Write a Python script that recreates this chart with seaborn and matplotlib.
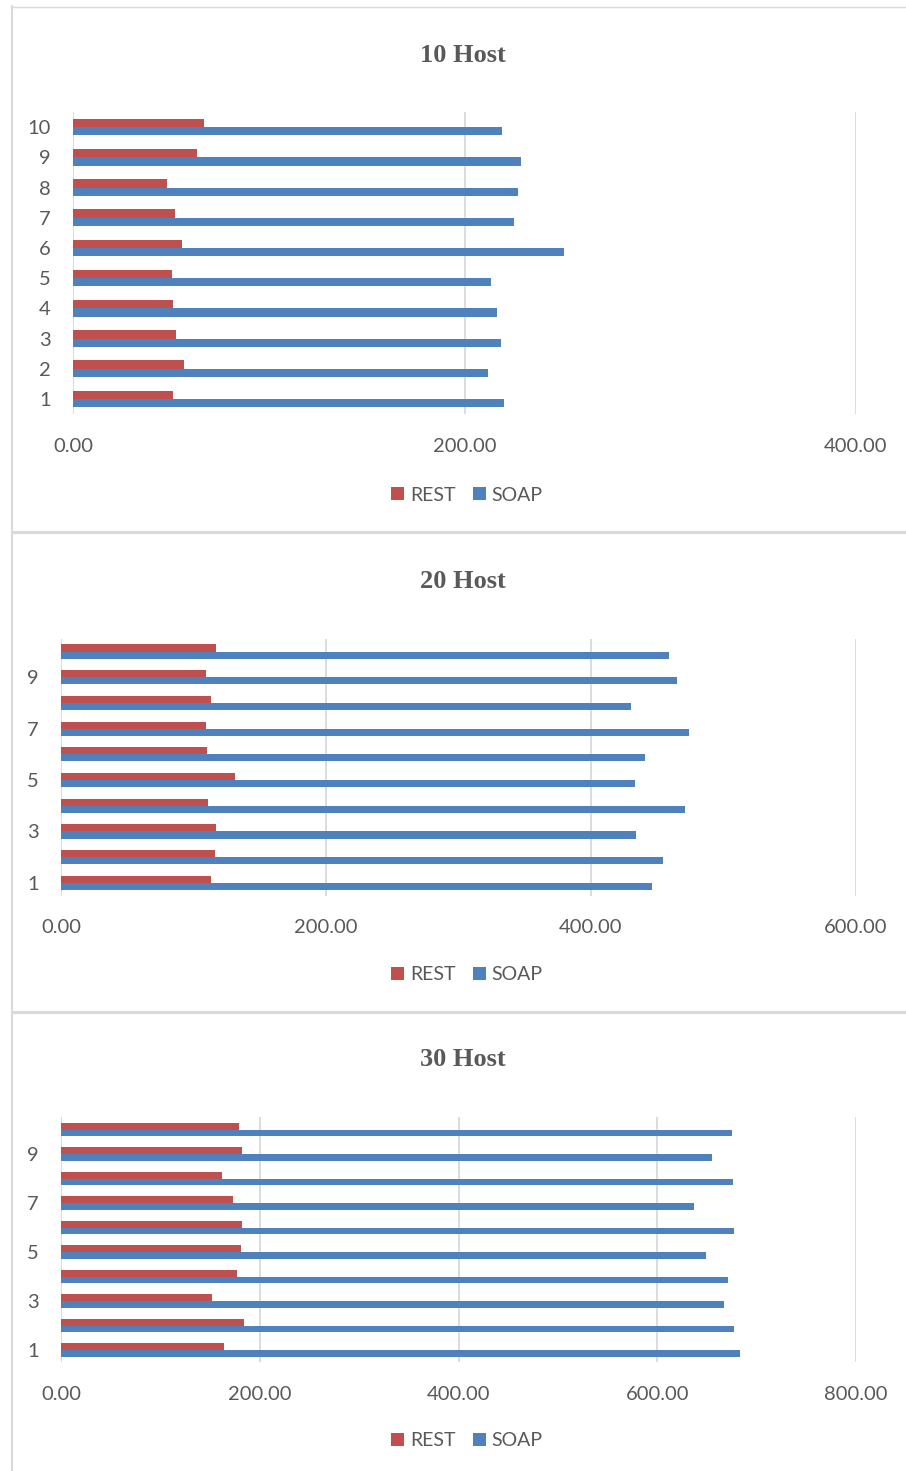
import matplotlib
matplotlib.use("Agg")
import matplotlib.pyplot as plt
from matplotlib.lines import Line2D
import seaborn as sns
import pandas as pd

# Response times per run (1..10) for each host count
runs = ["1", "2", "3", "4", "5", "6", "7", "8", "9", "10"]

rest_10 = [51.0, 56.5, 52.5, 51.3, 50.7, 55.5, 52.0, 48.0, 63.5, 67.0]
soap_10 = [220.0, 212.2, 218.5, 216.5, 213.7, 251.0, 225.5, 227.5, 228.7, 219.4]

rest_20 = [113.0, 116.5, 117.2, 111.0, 131.2, 110.2, 109.7, 113.5, 109.7, 117.2]
soap_20 = [445.7, 454.6, 434.2, 471.2, 433.3, 440.8, 474.0, 430.3, 465.0, 458.6]

rest_30 = [164.0, 183.7, 151.7, 177.3, 180.8, 182.6, 172.7, 161.6, 182.6, 179.0]
soap_30 = [683.1, 677.3, 667.4, 670.9, 648.8, 677.3, 636.6, 676.2, 654.7, 675.6]

titles = ["10 Host", "20 Host", "30 Host"]
x_limits = [400, 600, 800]
series = ["REST", "SOAP"]
colors = {"REST": "#C0504D", "SOAP": "#4F81BD"}

sns.set_style("white")
plt.rcParams["font.family"] = ["Lato", "DejaVu Sans"]

W, H = 906, 1471
fig = plt.figure(figsize=(W / 100, H / 100), dpi=100)


def fx(px):
    return px / W


def fy(py):
    return 1 - py / H


# (left, top, right, bottom) of each plot area in pixels
areas = [(73, 112, 856, 414), (61, 638.7, 856, 895.7), (61, 1117.3, 856, 1362.3)]
title_y = [55, 582, 1060]
legend_y = [495, 975, 1441]
datasets = [(rest_10, soap_10), (rest_20, soap_20), (rest_30, soap_30)]

text_color = "#595959"
grid_color = "#D9D9D9"
order = runs[::-1]

for i, ((l, t, r, b), (rest, soap)) in enumerate(zip(areas, datasets)):
    ax = fig.add_axes([fx(l), fy(b), fx(r - l), (b - t) / H])
    df = pd.DataFrame({
        "run": runs * 2,
        "time": rest + soap,
        "proto": ["REST"] * len(runs) + ["SOAP"] * len(runs),
    })
    sns.barplot(data=df, y="run", x="time", hue="proto", order=order,
                hue_order=series, palette=colors, orient="h", width=0.55,
                saturation=1, ax=ax, linewidth=0, errorbar=None)
    handles, labels = ax.get_legend_handles_labels()
    if ax.get_legend() is not None:
        ax.get_legend().remove()

    ax.set_xlim(0, x_limits[i])
    ax.set_ylim(len(runs) - 0.5, -0.5)
    ax.set_xticks(range(0, x_limits[i] + 1, 200))
    ax.set_xticklabels([f"{v:.2f}" for v in range(0, x_limits[i] + 1, 200)])
    ax.set_yticks(range(len(order)))
    if i == 0:
        ax.set_yticklabels(order)
    else:
        ax.set_yticklabels([lab if int(lab) % 2 == 1 else "" for lab in order])
    ax.set_xlabel("")
    ax.set_ylabel("")
    ax.grid(axis="x", color=grid_color, linewidth=1.3)
    ax.grid(axis="y", visible=False)
    ax.set_axisbelow(True)
    for s in ax.spines.values():
        s.set_visible(False)
    ax.tick_params(axis="both", length=0, labelsize=14.5, labelcolor=text_color)
    ax.tick_params(axis="x", pad=17)
    ax.tick_params(axis="y", pad=16)

    fig.text(fx(463), fy(title_y[i]), titles[i], ha="center", va="center",
             fontsize=19, fontweight="bold", color=text_color,
             family=["Liberation Serif", "DejaVu Serif"])

    fig.legend(handles, labels, loc="center",
               bbox_to_anchor=(fx(467), fy(legend_y[i])), ncol=2,
               frameon=False, fontsize=14, labelcolor=text_color,
               handlelength=0.65, handleheight=0.65, handletextpad=0.3,
               columnspacing=0.9)

# Panel frames
border = "#D9D9D9"
fig.add_artist(Line2D([fx(12), 1], [fy(6.5), fy(6.5)], transform=fig.transFigure,
                      color=border, linewidth=1.0))
fig.add_artist(Line2D([fx(12), fx(12)], [fy(6), 0], transform=fig.transFigure,
                      color=border, linewidth=1.5))
for y in (532, 1012):
    fig.add_artist(Line2D([fx(12), 1], [fy(y), fy(y)], transform=fig.transFigure,
                          color=border, linewidth=2.2))

fig.savefig("out.png", dpi=100, facecolor="white")
